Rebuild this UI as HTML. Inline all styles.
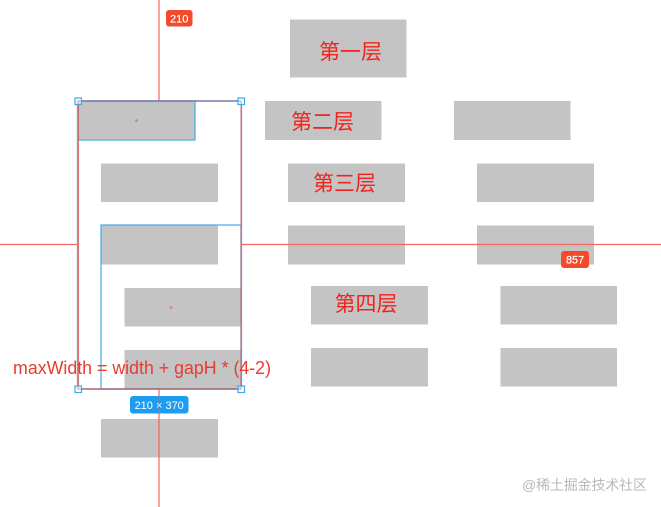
<!DOCTYPE html>
<html>
<head>
<meta charset="utf-8">
<style>
html,body{margin:0;padding:0;background:#fff;width:661px;height:507px;overflow:hidden}
svg{display:block}
.cjk{font-family:"WenQuanYi Zen Hei","Noto Sans CJK SC",sans-serif;font-size:21px;fill:#f2221c}
.badge{font-family:"Liberation Sans",sans-serif;font-size:11px;fill:#fff;stroke:#fff;stroke-width:.2;text-anchor:middle}
</style>
</head>
<body>
<svg width="661" height="507" viewBox="0 0 661 507" xmlns="http://www.w3.org/2000/svg">
<rect width="661" height="507" fill="#fff"/>
<g fill="#c4c4c4">
<rect x="290" y="19.5" width="116.5" height="58"/>
<rect x="265" y="101" width="116.5" height="39"/>
<rect x="454" y="101" width="116.5" height="39"/>
<rect x="78" y="101" width="117" height="39"/>
<rect x="101" y="163.5" width="117" height="38.5"/>
<rect x="288" y="163.5" width="117" height="38.5"/>
<rect x="477" y="163.5" width="117" height="38.5"/>
<rect x="101" y="225.5" width="117" height="39"/>
<rect x="288" y="225.5" width="117" height="39"/>
<rect x="477" y="225.5" width="117" height="39"/>
<rect x="124.5" y="288" width="116.5" height="38.5"/>
<rect x="311" y="286" width="117" height="38.5"/>
<rect x="500.5" y="286" width="116.5" height="38.5"/>
<rect x="124.5" y="350" width="116.5" height="39"/>
<rect x="311" y="348" width="117" height="38.5"/>
<rect x="500.5" y="348" width="116.5" height="38.5"/>
<rect x="101" y="419" width="117" height="38.5"/>
</g>
<!-- guides -->
<g stroke="#f4675a" stroke-width="1.2" fill="none">
<line x1="159" y1="0" x2="159" y2="101"/>
<line x1="159" y1="389" x2="159" y2="507"/>
<line x1="0" y1="244.5" x2="78" y2="244.5"/>
<line x1="241" y1="244.5" x2="661" y2="244.5"/>
</g>
<!-- blue selections -->
<g stroke="#4fb0ea" stroke-width="1.3" fill="none">
<rect x="78" y="101" width="117" height="39"/>
<rect x="101" y="225" width="140" height="164"/>
<rect x="77.5" y="101" width="164" height="288"/>
</g>
<!-- red overlay box -->
<rect x="78.5" y="101" width="162.5" height="288" fill="none" stroke="#d8655f" stroke-width="1.1" opacity=".85"/>
<line x1="78" y1="101" x2="241" y2="101" stroke="#7d6f9e" stroke-width="1.2"/>
<line x1="78" y1="389" x2="241" y2="389" stroke="#b1605f" stroke-width="1.3"/>
<!-- handles -->
<g fill="#fff" fill-opacity=".55" stroke="#3fa9ec" stroke-width="1.2">
<rect x="75" y="98" width="6.500" height="6.500"/>
<rect x="238" y="98" width="6.500" height="6.500"/>
<rect x="75" y="386" width="6.500" height="6.500"/>
<rect x="238" y="386" width="6.500" height="6.500"/>
</g>
<!-- center marks -->
<g fill="#e8708c">
<circle cx="136.5" cy="120.5" r="1.3"/>
<circle cx="171" cy="307.5" r="1.3"/>
</g>
<!-- badges -->
<rect x="166" y="10" width="26.5" height="16.5" rx="3" fill="#f4492a"/>
<text class="badge" x="179.2" y="22.300">210</text>
<rect x="561" y="251" width="28" height="17" rx="3" fill="#f4492a"/>
<text class="badge" x="575" y="263.500">857</text>
<rect x="130" y="396" width="58.5" height="17.5" rx="3" fill="#1c9df2"/>
<text class="badge" x="159.2" y="408.800" style="stroke:none">210 × 370</text>
<line x1="159" y1="389" x2="159" y2="415" stroke="#f4675a" stroke-width="1" opacity=".45"/>
<!-- red labels -->
<text class="cjk" x="319" y="59">第一层</text>
<text class="cjk" x="291" y="129">第二层</text>
<text class="cjk" x="313" y="190.500">第三层</text>
<text class="cjk" x="334.500" y="311">第四层</text>
<text x="13" y="374" font-family="'Liberation Sans',sans-serif" font-size="18.500" fill="#ea3a30" textLength="258" lengthAdjust="spacingAndGlyphs">maxWidth = width + gapH * (4-2)</text>
<!-- watermark -->
<text x="522" y="490" font-family="'Liberation Sans','Noto Sans CJK SC',sans-serif" font-size="14" fill="#b8b8b8" textLength="125">@稀土掘金技术社区</text>
</svg>
</body>
</html>
